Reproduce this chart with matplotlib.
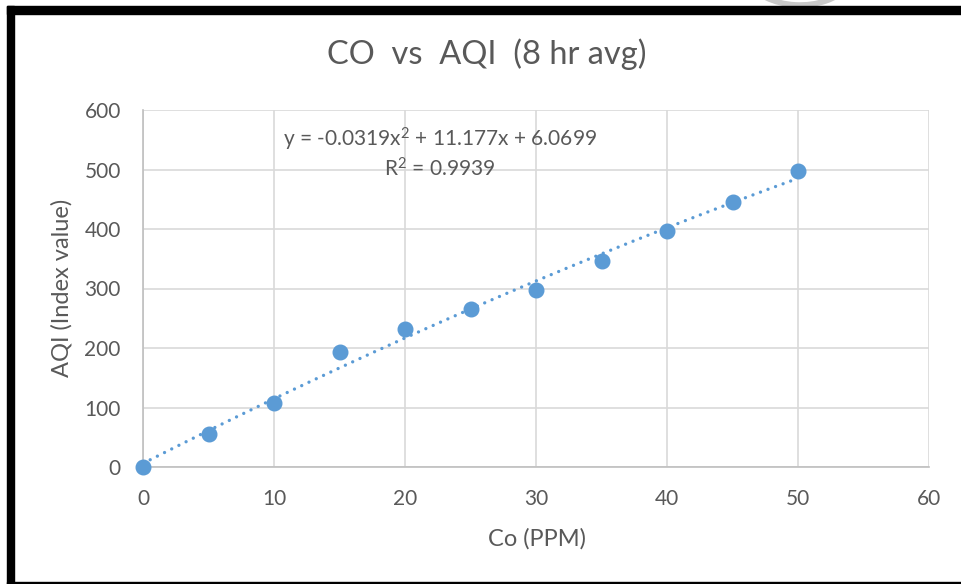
import numpy as np
import matplotlib.pyplot as plt
from matplotlib.patches import Rectangle, Arc

# CO concentration (ppm) and AQI index, 8 hr average
co_ppm = [0, 5, 10, 15, 20, 25, 30, 35, 40, 45, 50]
aqi = [0, 56, 108, 194, 232, 265, 297, 347, 397, 446, 497]

# second order trendline as reported
coef = [-0.0319, 11.177, 6.0699]
r2 = 0.9939

x_ticks = [0, 10, 20, 30, 40, 50, 60]
y_ticks = [0, 100, 200, 300, 400, 500, 600]

blue = '#5B9BD5'
grey_text = '#595959'

plt.rcParams['font.family'] = ['Lato', 'DejaVu Sans']
plt.rcParams['mathtext.fontset'] = 'custom'
plt.rcParams['mathtext.rm'] = 'Lato'
plt.rcParams['mathtext.default'] = 'regular'

W, H = 961, 584
fig = plt.figure(figsize=(W / 100, H / 100), dpi=100)
ax = fig.add_axes([143 / W, 1 - 467 / H, (929 - 143) / W, (467 - 110) / H])

# trendline
xs = np.linspace(0, 50, 200)
ax.plot(xs, np.polyval(coef, xs), color=blue, lw=2.4,
        linestyle=(0, (0.01, 2.4)), dash_capstyle='round', zorder=3)

# data points
ax.plot(co_ppm, aqi, 'o', color=blue, markersize=10.5, zorder=4, clip_on=False)

ax.set_xlim(0, 60)
ax.set_ylim(0, 600)
ax.set_xticks(x_ticks)
ax.set_yticks(y_ticks)
ax.grid(True, color='#D9D9D9', lw=1.2)
ax.set_axisbelow(True)
for s in ['top', 'right']:
    ax.spines[s].set_visible(False)
for s in ['left', 'bottom']:
    ax.spines[s].set_color('#BFBFBF')
    ax.spines[s].set_linewidth(1.2)
ax.tick_params(length=0, labelsize=15, labelcolor=grey_text)
ax.tick_params(axis='x', pad=16)
ax.tick_params(axis='y', pad=16)

fig.text(537 / W, 1 - 539 / H, 'Co (PPM)', fontsize=17, color=grey_text,
         ha='center', va='center')
fig.text(62 / W, 1 - 288 / H, 'AQI (Index value)', fontsize=17, color=grey_text,
         ha='center', va='center', rotation=90)

fig.text(487 / W, 1 - 54 / H, 'CO  vs  AQI  (8 hr avg)', fontsize=23.5,
         color=grey_text, ha='center', va='center')

eq = 'y = {:.4f}x$^2$ + {:.3f}x + {:.4f}'.format(*coef)
fig.text(440 / W, 1 - 139 / H, eq, fontsize=15, color=grey_text,
         ha='center', va='center')
fig.text(440 / W, 1 - 169 / H, 'R$^2$ = {}'.format(r2), fontsize=15,
         color=grey_text, ha='center', va='center')

# faint watermark strokes above the frame
fig.patches.append(Arc((800 / W, 1 + 30 / H), 110 / W, 70 / H, theta1=200, theta2=330,
                       transform=fig.transFigure, color='#C8C8C8', lw=4, zorder=1))

# heavy black frame around the chart
fig.patches.append(Rectangle((7 / W, 0), 7 / W, 1 - 6 / H, transform=fig.transFigure,
                             color='black', zorder=10))
fig.patches.append(Rectangle((7 / W, 1 - 14 / H), 1, 8 / H, transform=fig.transFigure,
                             color='black', zorder=10))
fig.patches.append(Rectangle((7 / W, 0), 1, 2.5 / H, transform=fig.transFigure,
                             color='black', zorder=10))

fig.savefig('out.png', dpi=100)
